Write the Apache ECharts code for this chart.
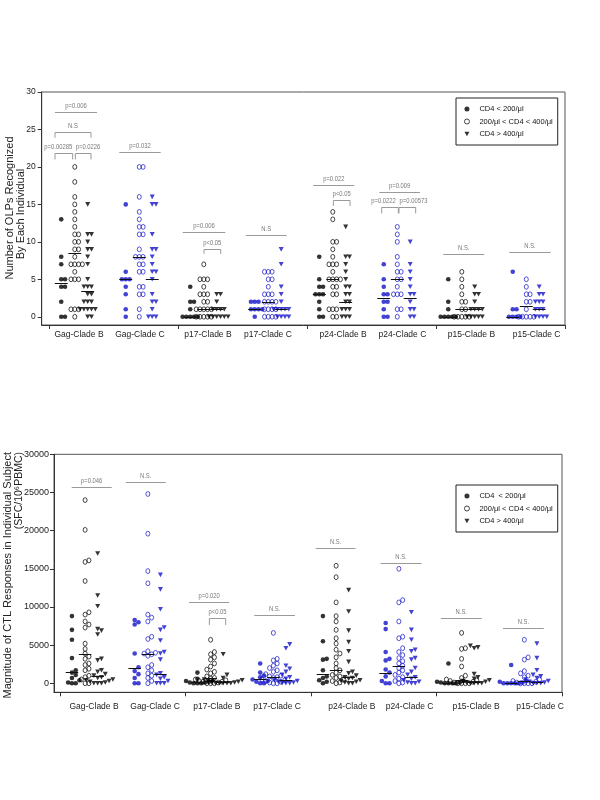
<!DOCTYPE html>
<html><head><meta charset="utf-8">
<script src="https://cdn.jsdelivr.net/npm/echarts@6/dist/echarts.min.js"></script>
<style>html,body{margin:0;padding:0;background:#fff}#c{width:600px;height:800px}</style>
</head><body><div id="c"></div>
<script>
// ---------- data ----------
const categories = ['Gag-Clade B','Gag-Clade C','p17-Clade B','p17-Clade C','p24-Clade B','p24-Clade C','p15-Clade B','p15-Clade C'];
const groupNames = ['CD4 < 200/μl','200/μl < CD4 < 400/μl','CD4 > 400/μl'];
const olpTicks = [0,5,10,15,20,25,30];
const ctlTicks = [0,5000,10000,15000,20000,25000,30000];

// Number of OLPs recognized (top panel)
const olpLow = [
  [13,8,7,5,5,4,4,2,0,0],
  [15,6,5,5,5,4,3,1,0],
  [4,2,2,1,0,0,0,0,0],
  [2,2,2,1,1,1,1,0],
  [8,5,4,4,3,3,3,2,1,0,0],
  [7,5,4,3,3,2,2,1,0,0],
  [5,2,1,0,0,0,0,0],
  [6,1,1,0,0,0,0]
];
const olpMid = [
  [20,18,16,15,14,13,12,11,11,10,10,9,9,8,7,7,7,7,6,5,5,5,1,1,1,0],
  [20,20,16,14,13,12,12,11,11,9,8,8,8,7,7,6,6,4,4,3,3,1,0],
  [7,5,5,5,4,3,3,3,2,2,1,1,1,1,1,0,0,0,0,0],
  [6,6,6,5,5,4,3,3,3,2,2,2,2,1,1,1,1,0,0,0,0],
  [14,13,10,10,9,8,7,7,7,6,5,5,5,5,4,4,3,3,1,1,1,0,0],
  [12,11,10,8,7,6,6,5,5,4,3,3,3,1,1,0],
  [6,5,4,3,2,2,1,1,0,0,0,0,0],
  [5,4,3,3,2,2,1,0,0,0,0,0]
];
const olpHigh = [
  [15,11,11,10,9,9,8,7,5,4,4,4,3,3,2,2,2,1,1,1,1,1,0,0],
  [16,15,15,11,9,9,8,7,6,6,5,3,2,2,1,0,0,0],
  [3,3,2,1,1,1,1,0,0,0,0,0,0],
  [9,7,4,3,2,1,1,1,1,1,0,0,0,0],
  [12,8,8,7,6,5,4,4,3,3,2,2,1,1,1,0,0,0],
  [10,7,6,5,4,3,3,2,1,1,0,0],
  [4,3,3,2,1,1,1,1,0,0,0,0,0],
  [4,3,3,2,2,2,1,1,1,0,0,0,0]
];
const olpMedLow  = [4.5,5,0,1,3,2.5,0,0];
const olpMedMid  = [8.5,8,1,2,5,5,1,1.5];
const olpMedHigh = [3.5,5,1,1,2,2.5,1,1];

// Magnitude of CTL responses (bottom panel)
const ctlLow = [
  [8800,7000,5700,3300,1700,1400,1100,700,400,100,0,0],
  [8300,8000,7700,3900,2100,1600,1200,700,0,0],
  [1400,600,400,300,200,100,100,0,0,0],
  [2600,1400,1000,800,500,300,200,0,0],
  [8800,5500,3200,3100,1700,900,700,400,200,0],
  [7900,7100,4100,3200,3000,1800,1400,900,300,0,0],
  [2600,300,200,100,100,0,0,0,0],
  [2400,300,200,100,0,0,0,0,0]
];
const ctlMid = [
  [24000,20100,16100,15900,13400,9300,9000,8100,7700,7300,5200,4500,3900,3500,3200,2600,2400,1900,1700,1000,800,500,0,0],
  [24800,19600,14700,13100,9000,8600,8100,6100,5800,4200,4000,3900,3800,3600,2400,2100,1700,1300,1000,700,300,0],
  [5700,4100,3800,3400,3100,2600,2200,1800,1500,1300,900,700,600,500,400,300,200,200,100,0,0,0],
  [6600,3200,3000,2600,2300,2000,1700,1500,1200,1000,900,800,700,500,400,300,200,100,0,0],
  [15400,13900,10600,8800,8100,7000,5900,5200,4400,3900,3400,2600,2000,1700,1400,1100,900,700,500,300,100,0],
  [15000,10900,10600,8100,6100,5900,4600,4100,3700,3300,2900,2600,2300,2000,1700,1400,1100,800,600,300,100,0],
  [6600,4600,4500,3200,2200,1000,700,500,400,300,200,100,0,0,0,0],
  [5700,3400,3100,1600,1300,1000,800,500,300,200,100,0,0,0,0]
];
const ctlHigh = [
  [17000,11500,10100,7100,6900,6400,3200,3000,1700,1500,1200,1000,800,700,500,400,300,200,100,0,0,0],
  [14200,12300,9700,7300,7000,5600,4100,3900,3100,1300,1100,800,600,300,0,0,0],
  [3800,1100,700,500,400,300,200,100,100,0,0,0,0,0],
  [5100,4600,2300,1900,1500,1100,800,600,400,300,200,100,0,0,0],
  [12200,9400,6900,5400,4200,2800,1500,1300,1000,800,700,600,400,300,200,100,0,0],
  [9300,7000,5700,4400,4200,3300,3100,2000,1500,1100,800,600,400,200,100,0,0],
  [4900,4700,4600,1200,800,600,400,300,200,100,0,0,0,0],
  [5200,3300,1700,1100,900,700,500,300,200,100,0,0,0]
];
const ctlMedLow  = [1450,2000,200,500,1200,1350,100,100];
const ctlMedMid  = [3800,3800,650,850,1800,2300,400,300];
const ctlMedHigh = [900,1200,150,400,800,800,200,200];

// significance annotations: [x1, x2, y, tickEndY, label, labelX]
const olpSig = [
  [-0.307,0.344,27.3,null,'p=0.006',null],
  [-0.307,0.251,24.6,23.9,'N.S',null],
  [-0.307,-0.033,21.8,21.0,'p=0.00285',-0.256],
  [0.008,0.251,21.8,21.0,'p=0.0226',0.205],
  [0.69,1.332,22.0,null,'p=0.032',null],
  [1.673,2.333,11.3,null,'p=0.006',null],
  [2.003,2.262,9.1,8.4,'p<0.05',null],
  [2.65,3.285,10.9,null,'N.S',null],
  [3.698,4.333,17.6,null,'p=0.022',null],
  [4.008,4.267,15.6,14.8,'p<0.05',null],
  [4.721,5.352,16.6,null,'p=0.009',null],
  [4.758,5.016,14.6,13.8,'p=0.0222',4.786],
  [5.026,5.285,14.6,13.8,'p=0.00573',5.251],
  [5.713,6.349,8.4,null,'N.S.',null],
  [6.736,7.378,8.7,null,'N.S.',null]
];
const ctlSig = [
  [-0.214,0.424,25680,null,'p=0.046',null],
  [0.647,1.284,26330,null,'N.S.',null],
  [1.656,2.298,10650,null,'p=0.020',null],
  [1.98,2.24,8510,7640,'p<0.05',null],
  [2.696,3.345,8950,null,'N.S.',null],
  [3.675,4.31,17680,null,'N.S.',null],
  [4.71,5.36,15800,null,'N.S.',null],
  [5.67,6.32,8510,null,'N.S.',null],
  [6.66,7.31,7200,null,'N.S.',null]
];

// ---------- layout / style ----------
const SANS = '"Liberation Sans",Arial,sans-serif';
const BLUE = '#1414c8';
const colOffset = [-0.21, 0, 0.2];
const sepTicks = [-0.4,1.6,3.6,5.6,7.6];
const olpLabelPos = [0.065,1.01,2.065,2.995,4.16,5.08,6.15,7.16];
const ctlLabelPos = [0.142,1.115,2.10,3.06,4.25,5.17,6.23,7.25];

function swarm(values, center, pxU, pxV) {
  const placed = [], out = [];
  const dX = 3.8, dY = 4.4;
  values.slice().sort((a,b)=>a-b).forEach(v => {
    const yp = v * pxV;
    let off = 0;
    for (let n = 0; n < 80; n++) {
      off = n === 0 ? 0 : (n % 2 ? 1 : -1) * Math.ceil(n/2) * dX;
      const hit = placed.some(p => Math.abs(p[0]-off) < dX - 0.01 && Math.abs(p[1]-yp) < dY);
      if (!hit) break;
    }
    placed.push([off, yp]);
    out.push([center + off / pxU, v]);
  });
  return out;
}
function buildPoints(arrs, g, pxU, pxV) {
  const pts = [];
  arrs.forEach((vals, c) => {
    const color = c % 2 ? BLUE : '#000';
    swarm(vals, c + colOffset[g], pxU, pxV).forEach(p => {
      pts.push({value: p, itemStyle: g === 1 ? {borderColor: color} : {color: color}});
    });
  });
  return pts;
}
const symbolDefs = [
  {symbol:'circle', symbolSize:4.6, itemStyle:{color:'#000'}},
  {symbol:'circle', symbolSize:[4,4.8], itemStyle:{color:'rgba(255,255,255,0)', borderColor:'#000', borderWidth:0.9}},
  {symbol:'path://M0,0L10,0L5,9Z', symbolSize:[5,4.6], itemStyle:{color:'#000'}}
];

const panels = [
  {groups:[olpLow,olpMid,olpHigh], meds:[olpMedLow,olpMedMid,olpMedHigh], sig:olpSig, pxU:64.5, pxV:7.49},
  {groups:[ctlLow,ctlMid,ctlHigh], meds:[ctlMedLow,ctlMedMid,ctlMedHigh], sig:ctlSig, pxU:62.75, pxV:229/30000}
];

const series = [];
panels.forEach((P, pi) => {
  P.groups.forEach((arrs, g) => {
    series.push(Object.assign({
      type:'scatter', name: groupNames[g], xAxisIndex: pi, yAxisIndex: pi,
      data: buildPoints(arrs, g, P.pxU, P.pxV), silent: true, z: 2
    }, JSON.parse(JSON.stringify(symbolDefs[g]))));
  });
  const medData = [];
  P.meds.forEach((arr, g) => arr.forEach((m, c) => { if (m != null) medData.push([c + colOffset[g], m]); }));
  series.push({
    type:'custom', xAxisIndex: pi, yAxisIndex: pi, data: medData, silent: true, z: 4, clip: false,
    renderItem: (params, api) => {
      const c = api.coord([api.value(0), api.value(1)]);
      const half = api.size([0.1, 0])[0];
      const y = Math.round(c[1]) + 0.5;
      return {type:'line', shape:{x1:c[0]-half, y1:y, x2:c[0]+half, y2:y}, style:{stroke:'#111', lineWidth:1}};
    }
  });
  const sig = P.sig;
  series.push({
    type:'custom', xAxisIndex: pi, yAxisIndex: pi, data: sig.map(s => [s[0], s[2]]), silent: true, z: 3, clip: false,
    renderItem: (params, api) => {
      const s = sig[params.dataIndex];
      const a = api.coord([s[0], s[2]]), b = api.coord([s[1], s[2]]);
      const y = Math.round(a[1]) + 0.5;
      let pts;
      if (s[3] != null) {
        const t = api.coord([s[0], s[3]])[1];
        pts = [[a[0], t], [a[0], y], [b[0], y], [b[0], t]];
      } else pts = [[a[0], y], [b[0], y]];
      const tx = s[5] != null ? api.coord([s[5], s[2]])[0] : (a[0] + b[0]) / 2;
      return {type:'group', children:[
        {type:'polyline', shape:{points: pts}, style:{stroke:'#9a9a9a', lineWidth:1, fill:'none'}},
        {type:'text', x: tx, y: y - 2.5, scaleX: 0.78, style:{text: s[4], fill:'#7a7a7a', font: '7.5px ' + SANS, align:'center', verticalAlign:'bottom'}}
      ]};
    }
  });
});

function xAxisFor(gi, min, pos, margin) {
  return {
    gridIndex: gi, type:'value', min: min, max: 7.6,
    axisLine:{onZero:false, lineStyle:{color:'#333'}},
    axisTick:{customValues: sepTicks, length:4, lineStyle:{color:'#333'}},
    axisLabel:{customValues: pos, margin: margin, fontFamily: SANS, fontSize: 8.5, color:'#222',
      formatter: v => { const i = pos.findIndex(p => Math.abs(p - v) < 1e-6); return i >= 0 ? categories[i] : ''; }},
    splitLine:{show:false}
  };
}
function yAxisFor(gi, min, max, ticks, size, margin) {
  return {
    gridIndex: gi, type:'value', min: min, max: max,
    axisLine:{show:true, onZero:false, lineStyle:{color:'#333'}},
    axisTick:{show:true, customValues: ticks, length:4, lineStyle:{color:'#333'}},
    axisLabel:{customValues: ticks, margin: margin, fontFamily: SANS, fontSize: size, color:'#222', formatter: v => String(v)},
    splitLine:{show:false}
  };
}
function legendFor(top, fmt) {
  return {
    orient:'vertical', left: 456, top: top, padding:[6,5,6,8], itemGap: 2.5,
    itemWidth: 5, itemHeight: 5, borderColor:'#222', borderWidth: 1, selectedMode: false,
    textStyle:{fontFamily: SANS, fontSize: 7.5, lineHeight: 10, color:'#111', padding:[0,0,0,5]},
    formatter: fmt,
    data:[
      {name: groupNames[0], icon:'circle', itemStyle:{color:'#000', borderWidth:0}},
      {name: groupNames[1], icon:'circle', itemStyle:{color:'rgba(255,255,255,0)', borderColor:'#000', borderWidth:0.9}},
      {name: groupNames[2], icon:'path://M0,0L10,0L5,9Z', itemStyle:{color:'#000', borderWidth:0}}
    ]
  };
}

const option = {
  animation: false,
  backgroundColor: '#fff',
  grid: [
    {left: 41.7, right: 35, top: 92, bottom: 475, show: true, borderColor: '#555', borderWidth: 1},
    {left: 54, right: 38, top: 454.3, bottom: 107.7, show: true, borderColor: '#555', borderWidth: 1}
  ],
  xAxis: [xAxisFor(0, -0.513, olpLabelPos, 5), xAxisFor(1, -0.496, ctlLabelPos, 10)],
  yAxis: [yAxisFor(0, -1.1, 30, olpTicks, 8.5, 6), yAxisFor(1, -1180, 30000, ctlTicks, 9, 5)],
  legend: [
    legendFor(98, n => n),
    legendFor(485, n => n === groupNames[0] ? 'CD4  < 200/μl' : n)
  ],
  graphic: [
    {type:'text', x:10, y:208, rotation: Math.PI/2, style:{text:'Number of OLPs Recognized', font:'11px ' + SANS, fill:'#222', align:'center', verticalAlign:'middle'}},
    {type:'text', x:21, y:214, rotation: Math.PI/2, style:{text:'By Each Individual', font:'11px ' + SANS, fill:'#222', align:'center', verticalAlign:'middle'}},
    {type:'text', x:8, y:452, rotation: Math.PI/2, style:{text:'Magnitude of CTL Responses in Individual Subject', font:'11px ' + SANS, fill:'#222', align:'right', verticalAlign:'middle'}},
    {type:'text', x:19.5, y:452, rotation: Math.PI/2, style:{text:'(SFC/10⁶PBMC)', font:'10.5px ' + SANS, fill:'#222', align:'right', verticalAlign:'middle'}}
  ],
  series: series
};
const chart = echarts.init(document.getElementById('c'), null, {renderer:'canvas'});
chart.setOption(option);
</script></body></html>
